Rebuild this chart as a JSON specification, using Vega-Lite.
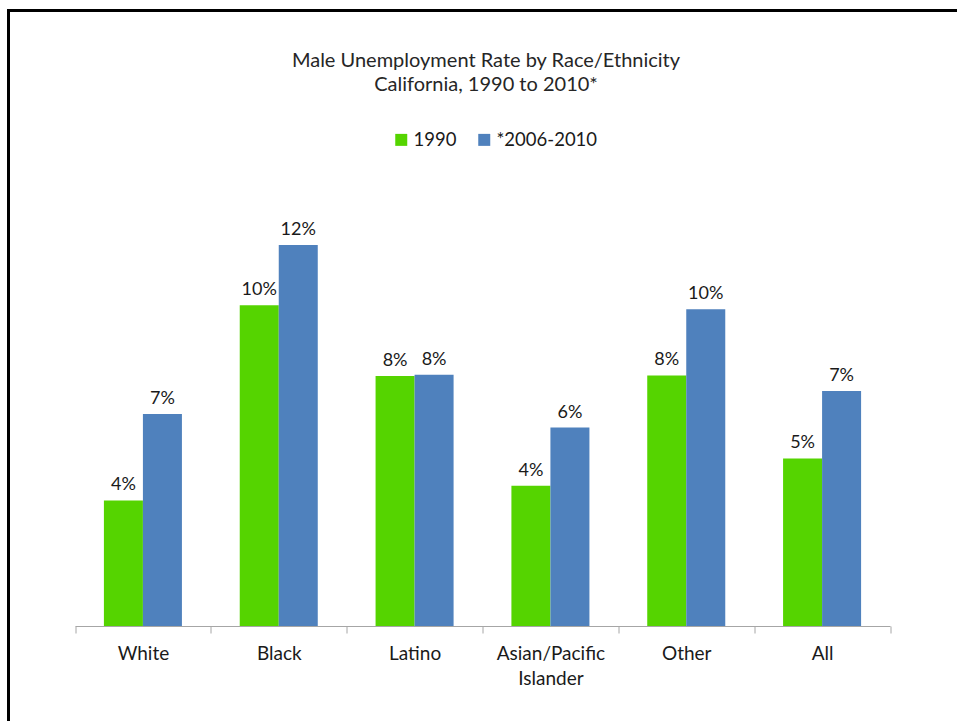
{
  "$schema": "https://vega.github.io/schema/vega-lite/v6.json",
  "autosize": {"type": "none"},
  "padding": {"left": 8.5, "top": 10.5, "right": -6.5, "bottom": -9.5},
  "width": 955,
  "height": 720,
  "background": "white",
  "config": {
    "view": {"stroke": "#000000", "strokeWidth": 3},
    "font": "Lato"
  },
  "title": {
    "text": ["Male Unemployment Rate by Race/Ethnicity", "California, 1990 to 2010*"],
    "anchor": "middle",
    "baseline": "bottom",
    "offset": -104,
    "fontSize": 20,
    "fontWeight": "normal",
    "font": "Lato",
    "color": "#262626",
    "lineHeight": 24
  },
  "data": {
    "values": [
      {"group": "White", "period": "1990", "rate": 0.0395},
      {"group": "White", "period": "*2006-2010", "rate": 0.0667},
      {"group": "Black", "period": "1990", "rate": 0.1009},
      {"group": "Black", "period": "*2006-2010", "rate": 0.1198},
      {"group": "Latino", "period": "1990", "rate": 0.0786},
      {"group": "Latino", "period": "*2006-2010", "rate": 0.0790},
      {"group": "Asian/Pacific Islander", "period": "1990", "rate": 0.0441},
      {"group": "Asian/Pacific Islander", "period": "*2006-2010", "rate": 0.0624},
      {"group": "Other", "period": "1990", "rate": 0.0788},
      {"group": "Other", "period": "*2006-2010", "rate": 0.0996},
      {"group": "All", "period": "1990", "rate": 0.0527},
      {"group": "All", "period": "*2006-2010", "rate": 0.0739}
    ]
  },
  "encoding": {
    "x": {
      "field": "group",
      "type": "nominal",
      "sort": null,
      "scale": {"range": [66.5, 881.5], "paddingInner": 0, "paddingOuter": 0},
      "axis": {
        "title": null,
        "orient": "bottom",
        "offset": -104.5,
        "labelAngle": 0,
        "labelFont": "Lato",
        "labelFontSize": 19,
        "labelColor": "#1a1a1a",
        "labelPadding": 11,
        "labelLineHeight": 25,
        "labelBaseline": "top",
        "labelExpr": "datum.label == 'Asian/Pacific Islander' ? ['Asian/Pacific', 'Islander'] : datum.label",
        "tickBand": "extent",
        "tickSize": 7,
        "tickColor": "#a6a6a6",
        "domainColor": "#a6a6a6",
        "grid": false
      }
    },
    "xOffset": {
      "field": "period",
      "type": "nominal",
      "sort": ["1990", "*2006-2010"],
      "scale": {"paddingInner": 0, "paddingOuter": 0.741}
    },
    "y": {
      "field": "rate",
      "type": "quantitative",
      "scale": {"domain": [0, 0.19355], "range": [615.5, 0], "nice": false},
      "axis": null
    }
  },
  "layer": [
    {
      "mark": {"type": "bar"},
      "encoding": {
        "color": {
          "field": "period",
          "type": "nominal",
          "sort": ["1990", "*2006-2010"],
          "scale": {"domain": ["1990", "*2006-2010"], "range": ["#55D400", "#4F81BD"]},
          "legend": {
            "title": null,
            "orient": "none",
            "legendX": 383.5,
            "legendY": 120,
            "direction": "horizontal",
            "symbolType": "square",
            "symbolSize": 144,
            "symbolStrokeWidth": 0,
            "labelFont": "Lato",
            "labelFontSize": 18.5,
            "labelColor": "#1a1a1a",
            "labelOffset": 3,
            "columnPadding": 18,
            "padding": 0
          }
        }
      }
    },
    {
      "mark": {"type": "text", "baseline": "alphabetic", "align": "center", "dy": -10, "fontSize": 18, "font": "Lato", "color": "#1a1a1a"},
      "encoding": {
        "text": {"field": "rate", "type": "quantitative", "format": ".0%"}
      }
    }
  ]
}
